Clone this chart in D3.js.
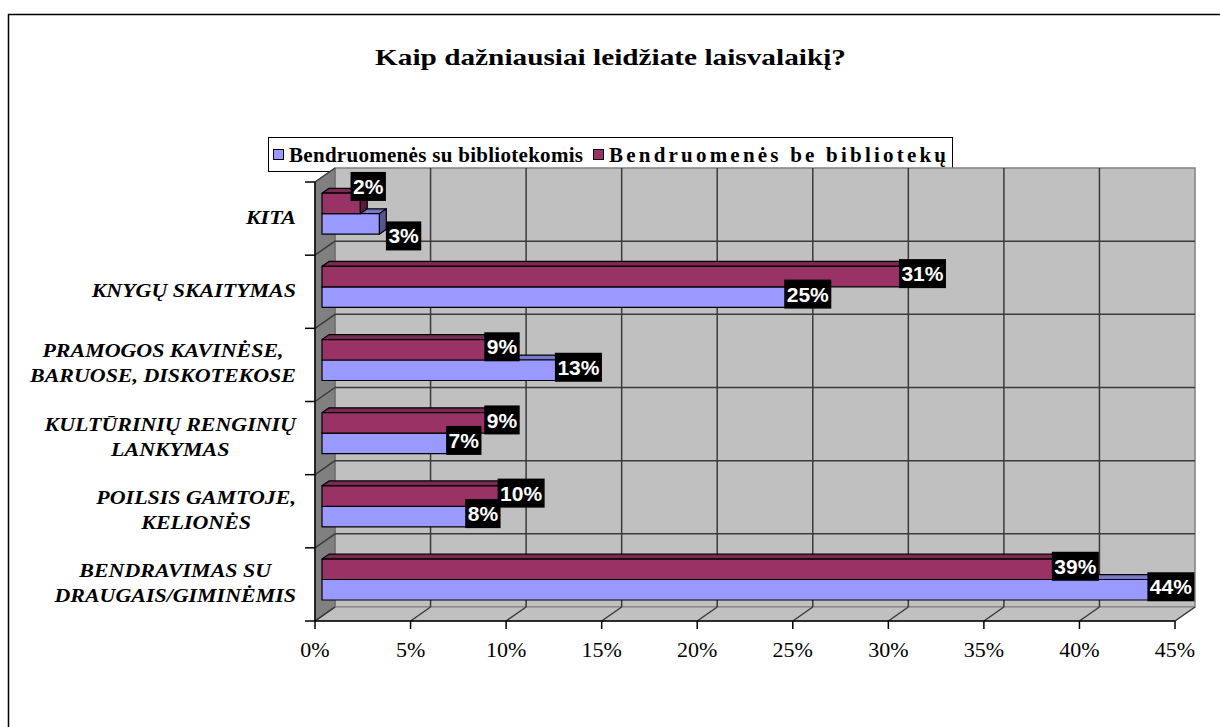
<!DOCTYPE html>
<html lang="lt">
  <head>
    <meta charset="utf-8" />
    <title>Kaip dažniausiai leidžiate laisvalaikį?</title>
    <script src="https://d3js.org/d3.v7.min.js"></script>
    <style>
      body {
        margin: 0;
        background-color: #fff;
      }
      svg {
        display: block;
      }
      .value-label {
        font-family: "Liberation Sans", Arial, sans-serif;
        font-weight: 700;
        font-size: 21px;
        fill: #fff;
      }
    </style>
  </head>
  <body>
    <div id="chart"></div>
    <script>
      // data (top to bottom as in the chart, "|" splits label lines)
      const categories = [
        "KITA",
        "KNYGŲ SKAITYMAS",
        "PRAMOGOS KAVINĖSE,|BARUOSE, DISKOTEKOSE",
        "KULTŪRINIŲ RENGINIŲ|LANKYMAS",
        "POILSIS GAMTOJE,|KELIONĖS",
        "BENDRAVIMAS SU|DRAUGAIS/GIMINĖMIS",
      ];
      const seriesNames = [
        "Bendruomenės su bibliotekomis",
        "Bendruomenės be bibliotekų",
      ];
      const withLibraries = [3, 25, 13, 7, 8, 44];
      const withoutLibraries = [2, 31, 9, 9, 10, 39];
      const xTicks = [0, 5, 10, 15, 20, 25, 30, 35, 40, 45];
      const titleText = "Kaip dažniausiai leidžiate laisvalaikį?";

      const width = 1220;
      const height = 727;
      const SERIF = "'Liberation Serif', 'Times New Roman', Times, serif";
      const serifStretch = 1.22; // bold serif text in the original is drawn wide

      const svg = d3
        .select("#chart")
        .append("svg")
        .attr("width", width)
        .attr("height", height);

      // chart border (runs off the right and bottom edges)
      svg
        .append("rect")
        .attr("x", 8.5)
        .attr("y", 14.5)
        .attr("width", 1240)
        .attr("height", 740)
        .attr("fill", "none")
        .attr("stroke", "#000")
        .attr("stroke-width", 1.5);

      // title
      svg
        .append("g")
        .attr("transform", `translate(610.5,65) scale(${serifStretch},1)`)
        .append("text")
        .attr("font-family", SERIF)
        .attr("text-anchor", "middle")
        .attr("font-weight", 700)
        .attr("font-size", 24)
        .text(titleText);

      // legend
      const colors = { front: ["#9999ff", "#993366"], top: ["#7777cc", "#7a2952"], side: ["#55558f", "#561d3a"] };
      const legendX = [273, 593];
      const legendTextW = [294, 337];
      const legend = svg.append("g");
      legend
        .append("rect")
        .attr("x", 268.5)
        .attr("y", 137.5)
        .attr("width", 684)
        .attr("height", 34)
        .attr("fill", "#fff")
        .attr("stroke", "#000");
      seriesNames.forEach((name, i) => {
        legend
          .append("rect")
          .attr("x", legendX[i] + 0.5)
          .attr("y", 149.5)
          .attr("width", 10)
          .attr("height", 10)
          .attr("fill", colors.front[i])
          .attr("stroke", "#000");
        legend
          .append("text")
          .attr("x", legendX[i] + 16)
          .attr("y", 162)
          .attr("font-family", SERIF)
          .attr("font-weight", 700)
          .attr("font-size", 21)
          .attr("textLength", legendTextW[i])
          .attr("lengthAdjust", "spacing")
          .text(name);
      });

      // 3D plot geometry
      const plotTop = 182;
      const plotBottom = 621;
      const DX = 20;
      const DY = -14;
      const barFront = 0.35;
      const barBack = 0.7;

      const x = d3.scaleLinear().domain([0, 45]).range([315, 1175]);
      const y = d3
        .scaleBand()
        .domain(categories)
        .range([plotTop, plotBottom])
        .paddingInner(0.44)
        .paddingOuter(0.22);
      const ySub = d3.scaleBand().domain([1, 0]).range([0, y.bandwidth()]);

      const x0 = x(0);
      const x1 = x(45);
      const poly = (pts) => "M" + pts.map((p) => p.join(",")).join("L") + "Z";

      const walls = svg.append("g");
      // back wall
      walls
        .append("path")
        .attr("d", poly([[x0 + DX, plotTop + DY], [x1 + DX, plotTop + DY], [x1 + DX, plotBottom + DY], [x0 + DX, plotBottom + DY]]))
        .attr("fill", "#c0c0c0")
        .attr("stroke", "#808080")
        .attr("stroke-width", 1.5);
      // left wall
      walls
        .append("path")
        .attr("d", poly([[x0, plotTop], [x0 + DX, plotTop + DY], [x0 + DX, plotBottom + DY], [x0, plotBottom]]))
        .attr("fill", "#808080")
        .attr("stroke", "#666")
        .attr("stroke-width", 1);
      // floor
      walls
        .append("path")
        .attr("d", poly([[x0, plotBottom], [x0 + DX, plotBottom + DY], [x1 + DX, plotBottom + DY], [x1, plotBottom]]))
        .attr("fill", "#c0c0c0")
        .attr("stroke", "#808080")
        .attr("stroke-width", 1);

      // gridlines
      const grid = svg.append("g").attr("stroke", "#3a3a3a").attr("stroke-width", 1.5).attr("fill", "none");
      xTicks.forEach((t) => {
        const gx = x(t);
        if (t > 0 && t < 45) {
          grid.append("path").attr("d", `M${gx + DX},${plotTop + DY}V${plotBottom + DY}`);
        }
        grid.append("path").attr("d", `M${gx},${plotBottom}L${gx + DX},${plotBottom + DY}`);
      });
      const bounds = d3.range(categories.length + 1).map((k) => plotTop + k * y.step());
      bounds.forEach((b, k) => {
        if (k > 0 && k < categories.length) {
          grid.append("path").attr("d", `M${x0 + DX},${b + DY}H${x1 + DX}`);
        }
        grid.append("path").attr("d", `M${x0},${b}L${x0 + DX},${b + DY}`);
      });

      // bars: series 0 (lower) first, series 1 drawn over it
      const values = [withLibraries, withoutLibraries];
      const bars = svg.append("g").attr("stroke", "#000").attr("stroke-width", 1.2).attr("stroke-linejoin", "round");
      const bdx = (barBack - barFront) * DX;
      const bdy = (barBack - barFront) * DY;
      const labelInfo = [];
      categories.forEach((cat, ci) => {
        const pair = [];
        [0, 1].forEach((si) => {
          const v = values[si][ci];
          const xa = x(0) + barFront * DX;
          const xb = x(v) + barFront * DX;
          const ya = y(cat) + ySub(si) + barFront * DY;
          const yb = ya + ySub.bandwidth();
          bars
            .append("path")
            .attr("d", poly([[xa, ya], [xa + bdx, ya + bdy], [xb + bdx, ya + bdy], [xb, ya]]))
            .attr("fill", colors.top[si]);
          bars
            .append("path")
            .attr("d", poly([[xb, ya], [xb + bdx, ya + bdy], [xb + bdx, yb + bdy], [xb, yb]]))
            .attr("fill", colors.side[si]);
          bars
            .append("rect")
            .attr("x", xa)
            .attr("y", ya)
            .attr("width", xb - xa)
            .attr("height", yb - ya)
            .attr("fill", colors.front[si]);
          pair.push({ v, cx: xb + 8, cy: (ya + yb) / 2 - 3 });
        });
        labelInfo.push(pair);
      });

      // axes
      const axis = svg.append("g").attr("stroke", "#000").attr("stroke-width", 1.5);
      axis.append("path").attr("d", `M${x0},${plotTop}V${plotBottom}`);
      axis.append("path").attr("d", `M${x0},${plotBottom}H${x1}`);
      bounds.forEach((b) => axis.append("path").attr("d", `M${x0 - 10},${b}H${x0}`));
      xTicks.forEach((t) => axis.append("path").attr("d", `M${x(t)},${plotBottom}V${plotBottom + 8}`));

      svg
        .append("g")
        .selectAll("text")
        .data(xTicks)
        .join("text")
        .attr("font-family", SERIF)
        .attr("x", (d) => x(d))
        .attr("y", 657)
        .attr("text-anchor", "middle")
        .attr("font-size", 22)
        .text((d) => d + "%");

      // category labels, centred block, right edge near the axis
      const catG = svg.append("g");
      categories.forEach((cat) => {
        const lines = cat.split("|");
        const g = catG.append("g");
        const texts = lines.map((line, li) =>
          g
            .append("text")
            .attr("font-family", SERIF)
            .attr("font-weight", 700)
            .attr("font-style", "italic")
            .attr("font-size", 18)
            .attr("text-anchor", "middle")
            .attr("y", (li - (lines.length - 1) / 2) * 25 + 6)
            .text(line)
        );
        const maxW = d3.max(texts, (t) => t.node().getComputedTextLength());
        texts.forEach((t) => t.attr("x", -maxW / 2));
        const cy = y(cat) + y.bandwidth() / 2 - 1;
        g.attr("transform", `translate(296,${cy}) scale(${serifStretch},1)`);
      });

      // value labels: white on black boxes
      const labG = svg.append("g");
      function addLabel(d) {
        const g = labG.append("g");
        const r = g.append("rect").attr("fill", "#000");
        const t = g
          .append("text")
          .attr("class", "value-label")
          .attr("text-anchor", "middle")
          .attr("dy", "0.36em")
          .text(d.v + "%");
        const w = t.node().getComputedTextLength() + 5;
        d.w = w;
        r.attr("x", -w / 2).attr("y", -14.5).attr("width", w).attr("height", 29);
        d.g = g;
      }
      labelInfo.forEach((pair) => {
        const [lo, hi] = pair; // lo = series 0 (lower bar), hi = series 1 (upper bar)
        addLabel(lo);
        addLabel(hi);
        // labels that overlap heavily are pushed apart, as in the original
        const overlapX = (lo.w + hi.w) / 2 - Math.abs(lo.cx - hi.cx);
        const overlapY = 29 - Math.abs(lo.cy - hi.cy);
        if (overlapX > 10 && overlapY > 0) {
          hi.cy -= 14;
          lo.cy += 15;
          lo.cx = hi.cx + hi.w / 2 + lo.w / 2;
        }
        lo.g.attr("transform", `translate(${lo.cx},${lo.cy})`);
        hi.g.attr("transform", `translate(${hi.cx},${hi.cy})`);
      });
    </script>
  </body>
</html>
